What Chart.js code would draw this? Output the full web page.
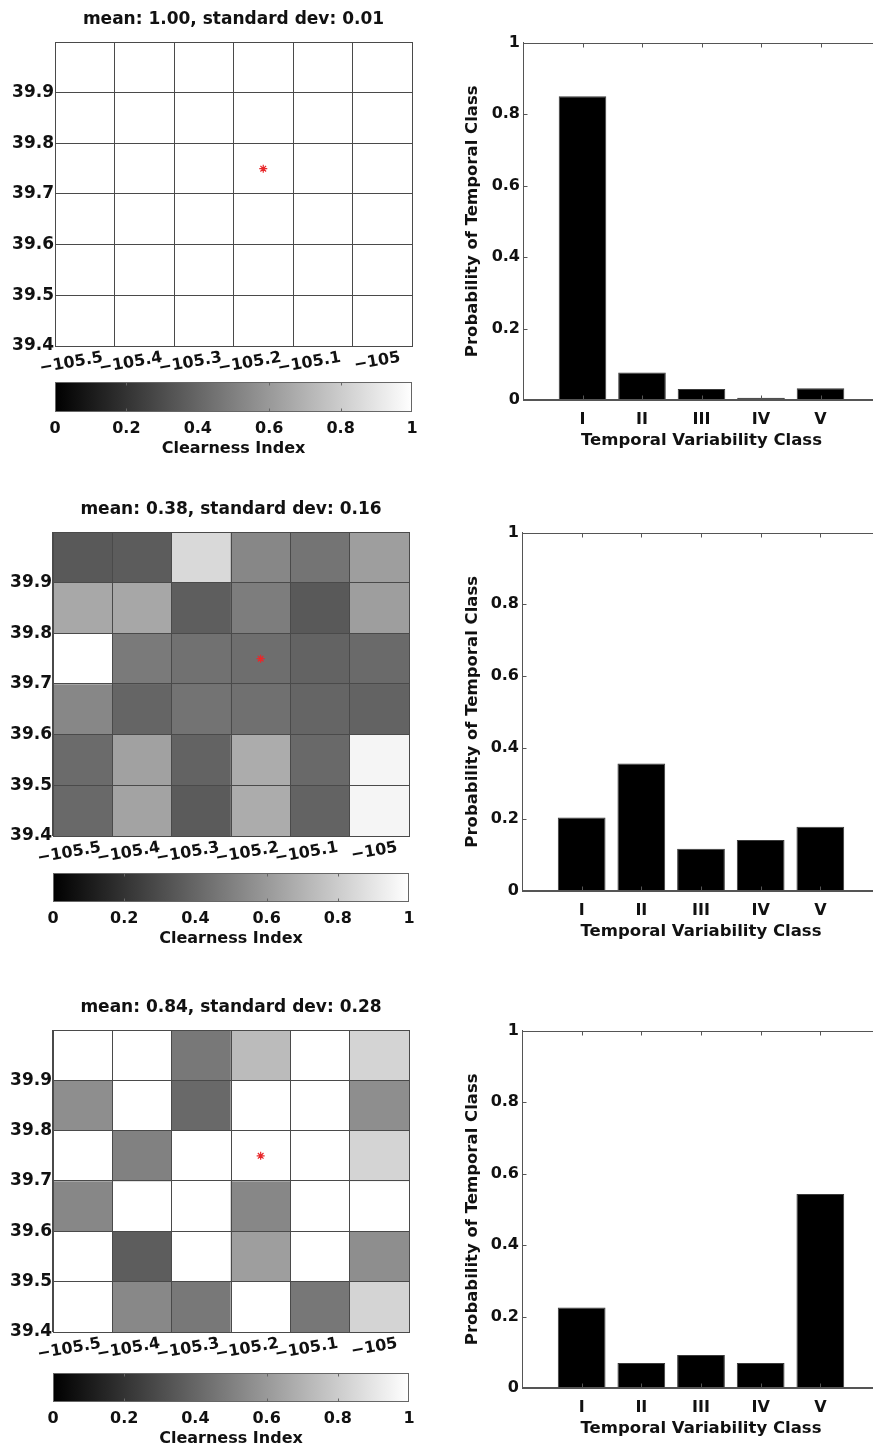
<!DOCTYPE html>
<html>
<head>
<meta charset="utf-8">
<title>Clearness index and temporal variability</title>
<script src="https://cdn.jsdelivr.net/npm/chart.js@4.4.1/dist/chart.umd.min.js"></script>
<style>
  html, body { margin: 0; padding: 0; background: #fff; }
  #page { position: relative; width: 873px; height: 1446px; overflow: hidden; }
  #page canvas { position: absolute; }
</style>
</head>
<body>
<div id="page"></div>
<script>
// Grid columns (longitude) and row edges (latitude)
const lonLabels = ['\u2212105.5', '\u2212105.4', '\u2212105.3', '\u2212105.2', '\u2212105.1', '\u2212105'];
const latEdges = [39.4, 39.5, 39.6, 39.7, 39.8, 39.9, 40.0];
const siteLon = '\u2212105.2';
const siteLat = 39.75;

// Clearness index per cell, rows from north (top) to south (bottom)
const clearnessA = [
  [1, 1, 1, 1, 1, 1],
  [1, 1, 1, 1, 1, 1],
  [1, 1, 1, 1, 1, 1],
  [1, 1, 1, 1, 1, 1],
  [1, 1, 1, 1, 1, 1],
  [1, 1, 1, 1, 1, 1]
];
const clearnessB = [
  [0.35, 0.36, 0.85, 0.53, 0.455, 0.62],
  [0.66, 0.655, 0.37, 0.49, 0.35, 0.62],
  [1.00, 0.48, 0.445, 0.43, 0.39, 0.415],
  [0.53, 0.395, 0.45, 0.44, 0.395, 0.39],
  [0.42, 0.63, 0.39, 0.675, 0.41, 0.96],
  [0.41, 0.64, 0.355, 0.675, 0.39, 0.96]
];
const clearnessC = [
  [1, 1, 0.47, 0.735, 1, 0.83],
  [0.555, 1, 0.41, 1, 1, 0.555],
  [1, 0.505, 1, 1, 1, 0.83],
  [0.53, 1, 1, 0.53, 1, 1],
  [1, 0.365, 1, 0.62, 1, 0.555],
  [1, 0.535, 0.47, 1, 0.465, 0.83]
];
const gridMeans = [1.00, 0.38, 0.84];
const gridStds = [0.01, 0.16, 0.28];

// Probability of each temporal variability class
const classLabels = ['I', 'II', 'III', 'IV', 'V'];
const probA = [0.850, 0.077, 0.031, 0.006, 0.033];
const probB = [0.205, 0.356, 0.118, 0.142, 0.179];
const probC = [0.225, 0.070, 0.092, 0.070, 0.543];

Chart.defaults.font.family = "'DejaVu Sans', sans-serif";
Chart.defaults.font.size = 16;
Chart.defaults.font.weight = 'bold';
Chart.defaults.color = '#111';
Chart.defaults.plugins.legend.display = false;
Chart.defaults.plugins.tooltip.enabled = false;
Chart.defaults.animation = false;
Chart.defaults.responsive = false;

const page = document.getElementById('page');

function makeCanvas(left, top, width, height) {
    const cv = document.createElement('canvas');
    cv.width = width;
    cv.height = height;
    cv.style.left = left + 'px';
    cv.style.top = top + 'px';
    page.appendChild(cv);
    return cv;
}

function gray(v) {
    const c = Math.round(v * 255);
    return 'rgb(' + c + ',' + c + ',' + c + ')';
}

// Box around the plot area, with short inward ticks
const frame = {
    id: 'frame',
    afterDatasetsDraw(chart, args, opts) {
        if (!opts.show) return;
        const { ctx, chartArea: a } = chart;
        const L = Math.round(a.left) + 0.5, R = Math.round(a.right) - 0.5;
        const T = Math.round(a.top) + 0.5, B = Math.round(a.bottom) - 0.5;
        ctx.save();
        ctx.strokeStyle = opts.color;
        ctx.lineWidth = 1;
        ctx.strokeRect(L, T, R - L, B - T);
        ctx.beginPath();
        if (opts.xTicks) {
            const x = chart.scales.x;
            opts.xTicks.forEach(v => {
                const px = Math.round(x.getPixelForValue(v)) + 0.5;
                ctx.moveTo(px, T); ctx.lineTo(px, T + opts.len);
                ctx.moveTo(px, B); ctx.lineTo(px, B - opts.len);
            });
        }
        if (opts.yTicks) {
            const y = chart.scales.y;
            opts.yTicks.forEach(v => {
                const py = Math.round(y.getPixelForValue(v)) + 0.5;
                ctx.moveTo(L, py); ctx.lineTo(L + opts.len, py);
            });
        }
        ctx.stroke();
        ctx.restore();
    }
};
Chart.register(frame);

function heatmap(box, cells, title) {
    const cv = makeCanvas(0, box.t - 42, box.r + 18, (box.b - box.t) + 42 + 30);
    const datasets = cells.map((row, r) => ({
        data: row.map(() => [latEdges[5 - r], latEdges[6 - r]]),
        backgroundColor: row.map(gray),
        borderWidth: 0,
        grouped: false,
        barPercentage: 1,
        categoryPercentage: 1
    }));
    // observation site, drawn on top of the cells
    datasets.push({
        type: 'line',
        order: -1,
        data: [{ x: siteLon, y: siteLat }],
        showLine: false,
        pointStyle: 'star',
        radius: 4,
        borderColor: '#e8282b',
        borderWidth: 1.2
    });
    new Chart(cv, {
        type: 'bar',
        data: { labels: lonLabels, datasets: datasets },
        options: {
            layout: { padding: { right: 18 } },
            plugins: {
                title: {
                    display: true, text: title, fullSize: false,
                    font: { size: 17 }, color: '#111',
                    padding: { top: 9, bottom: 12.6 }
                },
                frame: { show: false }
            },
            scales: {
                x: {
                    grid: { color: '#4a4a4a', z: 1, drawTicks: false },
                    border: { color: '#4a4a4a', z: 1 },
                    ticks: { minRotation: 10, maxRotation: 10, autoSkip: false, labelOffset: 18, padding: 2 },
                    afterFit: s => { s.height = 30; }
                },
                y: {
                    min: 39.4, max: 40.0,
                    grid: { color: '#4a4a4a', z: 1, drawTicks: false },
                    border: { color: '#4a4a4a', z: 1 },
                    ticks: { stepSize: 0.1, padding: 1, font: { size: 17 }, callback: v => v > 39.95 ? '' : v.toFixed(1) },
                    afterFit: s => { s.width = box.l; }
                }
            }
        }
    });
}

function colorbar(box) {
    const cv = makeCanvas(0, box.t - 2, box.r + 18, 2 + (box.b - box.t) + 46);
    new Chart(cv, {
        type: 'bar',
        data: {
            labels: ['ci'],
            datasets: [{
                data: [[0, 1]],
                backgroundColor: c => {
                    const chart = c.chart;
                    if (!chart.chartArea) return '#888';
                    const x = chart.scales.x;
                    const g = chart.ctx.createLinearGradient(x.getPixelForValue(0), 0, x.getPixelForValue(1), 0);
                    g.addColorStop(0, '#000');
                    g.addColorStop(1, '#fff');
                    return g;
                },
                borderWidth: 0,
                barPercentage: 1,
                categoryPercentage: 1
            }]
        },
        options: {
            indexAxis: 'y',
            layout: { padding: { top: 2, right: 18 } },
            plugins: { frame: { show: true, color: '#666', len: 3, xTicks: [0.2, 0.4, 0.6, 0.8] } },
            scales: {
                x: {
                    min: 0, max: 1,
                    grid: { display: false, drawTicks: false }, border: { display: false },
                    ticks: { stepSize: 0.2, padding: 7, callback: v => (v === 0 || v === 1) ? String(v) : v.toFixed(1) },
                    title: { display: true, text: 'Clearness Index', font: { size: 16 }, padding: { top: 0, bottom: 0 } },
                    afterFit: s => { s.height = 46; }
                },
                y: {
                    grid: { display: false, drawTicks: false }, border: { display: false },
                    ticks: { display: false },
                    afterFit: s => { s.width = box.l; }
                }
            }
        }
    });
}

function barPanel(box, probs) {
    const cv = makeCanvas(440, box.t - 12, 450, 12 + (box.b - box.t) + 51);
    new Chart(cv, {
        type: 'bar',
        data: {
            datasets: [{
                data: probs.map((p, i) => ({ x: i + 1, y: p })),
                backgroundColor: '#000',
                borderColor: '#3a3a3a',
                borderWidth: 1,
                barPercentage: 1,
                categoryPercentage: 0.8
            }]
        },
        options: {
            layout: { padding: { top: 12, right: 10 } },
            plugins: { frame: { show: true, color: '#555', len: 4, xTicks: [1, 2, 3, 4, 5], yTicks: [0.2, 0.4, 0.6, 0.8] } },
            scales: {
                x: {
                    type: 'linear', min: 0, max: 6, offset: false,
                    grid: { display: false, drawTicks: false }, border: { color: '#555' },
                    ticks: { stepSize: 1, padding: 10, callback: v => classLabels[v - 1] || '' },
                    title: { display: true, text: 'Temporal Variability Class', font: { size: 16.5 }, padding: { top: 0, bottom: 0 } },
                    afterFit: s => { s.height = 51; }
                },
                y: {
                    min: 0, max: 1,
                    grid: { display: false, drawTicks: false }, border: { color: '#555' },
                    ticks: { stepSize: 0.2, padding: 3, callback: v => (v === 0 || v === 1) ? String(v) : v.toFixed(1) },
                    title: { display: true, text: 'Probability of Temporal Class', font: { size: 16.5 }, padding: { top: 23, bottom: 0 } },
                    afterFit: s => { s.width = box.l - 440; }
                }
            }
        }
    });
}

const heatBoxes = [
    { l: 55, r: 412, t: 42, b: 346 },
    { l: 53, r: 409, t: 532, b: 836 },
    { l: 53, r: 409, t: 1030, b: 1332 }
];
const barBoxes = [
    { l: 523, t: 42, b: 400 },
    { l: 522, t: 532, b: 891 },
    { l: 522, t: 1030, b: 1388 }
];
const cbarBoxes = [
    { l: 55, r: 412, t: 382, b: 412 },
    { l: 53, r: 409, t: 873, b: 902 },
    { l: 53, r: 409, t: 1373, b: 1402 }
];
const grids = [clearnessA, clearnessB, clearnessC];
const probs = [probA, probB, probC];

for (let i = 0; i < 3; i++) {
    const title = 'mean: ' + gridMeans[i].toFixed(2) + ', standard dev: ' + gridStds[i].toFixed(2);
    heatmap(heatBoxes[i], grids[i], title);
    colorbar(cbarBoxes[i]);
    barPanel(barBoxes[i], probs[i]);
}
</script>
</body>
</html>
